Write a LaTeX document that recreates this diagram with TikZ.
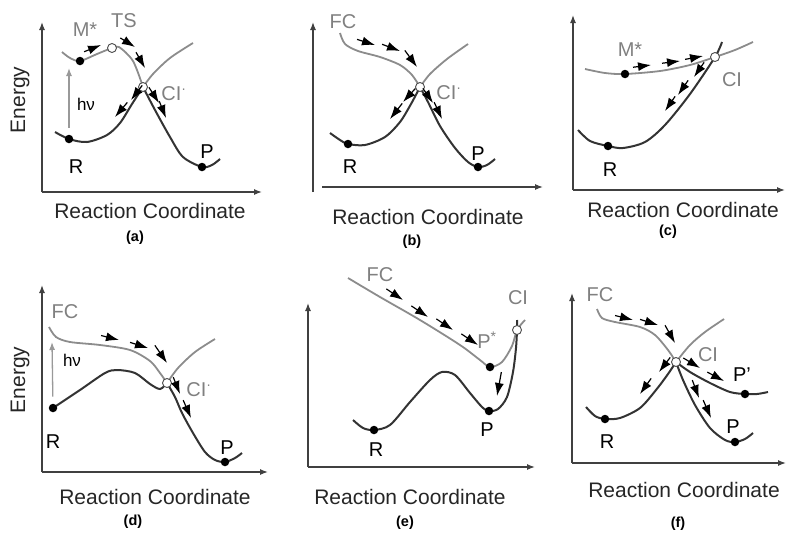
\documentclass[tikz,border=0pt]{standalone}
\usepackage{fontspec}
\setmainfont{Liberation Sans}
\usetikzlibrary{arrows.meta}

\begin{document}
\begin{tikzpicture}[x=1pt,y=-1pt,
    axis/.style={draw=black!75,line width=1.3pt,-{Latex[length=8pt,width=6pt]}},
    ground/.style={draw=black!80,line width=2pt},
    excited/.style={draw=black!45,line width=1.8pt},
    flow/.style={line width=1.2pt,shorten <=-2pt,-{Latex[length=13pt,width=9pt]}},
    pump/.style={draw=black!40,line width=1.3pt,shorten <=7pt,-{Latex[length=8pt,width=6pt]}},
    dot/.style={circle,fill=black,inner sep=0pt,minimum size=8.5pt},
    ci/.style={circle,draw=black!70,fill=white,line width=0.9pt,inner sep=0pt,minimum size=9pt},
    lbl/.style={font=\fontsize{20}{24}\selectfont},
    glbl/.style={lbl,text=black!50},
    hv/.style={font=\fontsize{17}{20}\selectfont},
    axlbl/.style={font=\fontsize{21}{25}\selectfont,text=black!85},
    tag/.style={font=\bfseries\fontsize{14.5}{16}\selectfont}]
  \useasboundingbox (0,0) rectangle (786,533);

  % (a) photoexcitation, barrier TS, then CI
  \draw[axis] (42,192) -- (42,22);
  \draw[axis] (42,192) -- (262,192);
  \node[axlbl,rotate=90] at (20,100) {Energy};
  \node[axlbl] at (150,211) {Reaction Coordinate};
  \node[tag] at (135,238) {(a)};
  \draw[excited] plot[smooth] coordinates {(62,52) (70,58) (80,61) (97,54) (112,48) (119,47) (133,61) (143,87)};
  \draw[excited] plot[smooth] coordinates {(143,87) (153,74) (170,58) (193,43)};
  \draw[ground] plot[smooth] coordinates {(55,132) (69,139) (87,142) (107,135) (120,123) (132,104) (143,87)};
  \draw[ground] plot[smooth] coordinates {(143,87) (155,110) (170,137) (183,157) (202,167) (212,165) (220,159)};
  \node[dot] (Ma) at (80,61) {};
  \node[dot] (Ra) at (69,139) {};
  \node[dot] (Pa) at (202,167) {};
  \node[ci] (TSa) at (112,48) {};
  \node[ci] (CIa) at (143,87) {};
  \coordinate (hva) at (69,68);
  \draw[pump] (Ra) -- (hva);
  \node[hv] at (86,104) {hν};
  \node[glbl] at (85,30) {M*};
  \node[glbl] at (124,21) {TS};
  \node[glbl] at (174,94) {CI\textsuperscript{·}};
  \node[lbl] at (76,167) {R};
  \node[lbl] at (207,152) {P};
  \draw[flow] (86,51) -- (101,45);
  \draw[flow] (122,39) -- (135,47);
  \draw[flow] (137,54) -- (145,68);
  \draw[flow] (141,87) -- (131,100);
  \draw[flow] (126,104) -- (115,117);
  \draw[flow] (150,89) -- (159,103);
  \draw[flow] (160,103) -- (166,118);

  % (b) from FC straight through CI
  \draw[axis] (313,192) -- (313,22);
  \draw[axis] (322,187) -- (543,187);
  \node[axlbl] at (428,217) {Reaction Coordinate};
  \node[tag] at (412,242) {(b)};
  \draw[excited] plot[smooth] coordinates {(340,33) (345,44) (358,51) (380,57) (400,65) (412,75) (420,87)};
  \draw[excited] plot[smooth] coordinates {(420,87) (430,74) (447,59) (468,44)};
  \draw[ground] plot[smooth] coordinates {(330,133) (340,140) (348,144) (365,145) (385,137) (400,122) (411,104) (420,87)};
  \draw[ground] plot[smooth] coordinates {(420,87) (428,102) (440,126) (455,148) (468,162) (478,167) (487,165) (495,159)};
  \node[dot] (Rb) at (348,144) {};
  \node[dot] (Pb) at (478,167) {};
  \node[ci] (CIb) at (420,87) {};
  \node[glbl] at (343,22) {FC};
  \node[glbl] at (449,93) {CI\textsuperscript{·}};
  \node[lbl] at (350,167) {R};
  \node[lbl] at (478,154) {P};
  \draw[flow] (359,40) -- (375,45);
  \draw[flow] (384,45) -- (400,51);
  \draw[flow] (406,52) -- (417,67);
  \draw[flow] (414,90) -- (403,102);
  \draw[flow] (401,105) -- (390,119);
  \draw[flow] (424,90) -- (433,103);
  \draw[flow] (435,104) -- (442,119);

  % (c) uphill to CI, back to R
  \draw[axis] (573,190) -- (573,15);
  \draw[axis] (573,190) -- (785,190);
  \node[axlbl] at (683,210) {Reaction Coordinate};
  \node[tag] at (668,232) {(c)};
  \draw[excited] plot[smooth] coordinates {(585,69) (605,73) (625,74) (660,71) (690,65) (715,57) (735,50) (753,42)};
  \draw[ground] plot[smooth] coordinates {(578,130) (590,141) (608,146) (623,148) (645,142) (665,125) (690,94) (715,57) (722,42)};
  \node[dot] (Mc) at (625,74) {};
  \node[dot] (Rc) at (608,146) {};
  \node[ci] (CIc) at (715,57) {};
  \node[glbl] at (630,50) {M*};
  \node[glbl] at (732,80) {CI};
  \node[lbl] at (610,170) {R};
  \draw[flow] (635,67) -- (651,65);
  \draw[flow] (664,63) -- (680,61);
  \draw[flow] (687,59) -- (703,56);
  \draw[flow] (703,64) -- (694,77);
  \draw[flow] (687,82) -- (678,95);
  \draw[flow] (674,98) -- (665,111);

  % (d) FC, small well before CI
  \draw[axis] (42,472) -- (42,285);
  \draw[axis] (42,472) -- (268,472);
  \node[axlbl,rotate=90] at (20,380) {Energy};
  \node[axlbl] at (155,497) {Reaction Coordinate};
  \node[tag] at (133,522) {(d)};
  \draw[excited] plot[smooth] coordinates {(49,327) (56,337) (70,342) (100,345) (130,350) (150,361) (160,373) (167,383)};
  \draw[excited] plot[smooth] coordinates {(167,383) (178,368) (195,352) (215,339)};
  \draw[ground] plot[smooth] coordinates {(53,408) (80,390) (105,373) (117,370) (135,373) (150,384) (160,389) (167,383)};
  \draw[ground] plot[smooth] coordinates {(167,383) (175,397) (182,413) (193,433) (205,452) (215,460) (225,462) (235,458) (242,453)};
  \node[dot] (Rd) at (53,408) {};
  \node[dot] (Pd) at (225,462) {};
  \node[ci] (CId) at (167,383) {};
  \coordinate (hvd) at (52,342);
  \draw[pump] (Rd) -- (hvd);
  \node[hv] at (72,360) {hν};
  \node[glbl] at (65,312) {FC};
  \node[glbl] at (199,390) {CI\textsuperscript{·}};
  \node[lbl] at (53,442) {R};
  \node[lbl] at (227,448) {P};
  \draw[flow] (103,336) -- (119,340);
  \draw[flow] (132,343) -- (148,348);
  \draw[flow] (156,347) -- (167,363);
  \draw[flow] (174,379) -- (180,394);
  \draw[flow] (184,402) -- (191,418);

  % (e) relaxation to P*, then down to P
  \draw[axis] (308,467) -- (308,303);
  \draw[axis] (308,467) -- (535,467);
  \node[axlbl] at (410,497) {Reaction Coordinate};
  \node[tag] at (405,523) {(e)};
  \draw[excited] plot[smooth] coordinates {(348,278) (380,297) (420,320) (460,345) (480,360) (490,367) (502,362) (512,346) (517,330) (525,320)};
  \draw[ground] plot[smooth] coordinates {(353,420) (363,428) (374,430) (390,425) (410,402) (430,380) (442,372) (455,375) (470,393) (482,407) (489,411) (498,409) (507,397) (513,372) (516,348) (517,330) (517,320)};
  \node[dot] (Re) at (374,430) {};
  \node[dot] (Pe) at (489,411) {};
  \node[dot] (Pse) at (490,367) {};
  \node[ci] (CIe) at (517,330) {};
  \node[glbl] at (380,275) {FC};
  \node[glbl] at (518,298) {CI};
  \node[glbl] at (487,340) {P\textsuperscript{*}};
  \node[lbl] at (376,450) {R};
  \node[lbl] at (487,430) {P};
  \draw[flow] (388,290) -- (403,300);
  \draw[flow] (413,307) -- (428,317);
  \draw[flow] (438,320) -- (453,330);
  \draw[flow] (463,335) -- (478,345);
  \draw[flow] (501,374) -- (497,396);

  % (f) CI branching into P and P'
  \draw[axis] (572,463) -- (572,293);
  \draw[axis] (572,463) -- (786,463);
  \node[axlbl] at (684,490) {Reaction Coordinate};
  \node[tag] at (678,524) {(f)};
  \draw[excited] plot[smooth] coordinates {(597,309) (602,318) (615,322) (640,327) (655,335) (668,350) (676,362)};
  \draw[excited] plot[smooth] coordinates {(676,362) (690,345) (705,332) (724,319)};
  \draw[ground] plot[smooth] coordinates {(586,407) (595,416) (605,419) (620,418) (640,408) (656,390) (668,374) (676,362)};
  \draw[ground] plot[smooth] coordinates {(676,362) (683,380) (695,405) (710,428) (725,440) (735,442) (745,439) (753,433)};
  \draw[ground] plot[smooth] coordinates {(676,362) (690,372) (710,383) (730,392) (745,394) (757,394) (768,392)};
  \node[dot] (Rf) at (605,419) {};
  \node[dot] (Pf) at (735,442) {};
  \node[dot] (Ppf) at (745,394) {};
  \node[ci] (CIf) at (676,362) {};
  \node[glbl] at (600,295) {FC};
  \node[glbl] at (708,355) {CI};
  \node[lbl] at (742,375) {P'};
  \node[lbl] at (733,427) {P};
  \node[lbl] at (607,442) {R};
  \draw[flow] (617,316) -- (633,320);
  \draw[flow] (642,320) -- (658,325);
  \draw[flow] (666,327) -- (675,343);
  \draw[flow] (669,359) -- (659,372);
  \draw[flow] (650,380) -- (640,394);
  \draw[flow] (685,359) -- (700,368);
  \draw[flow] (709,373) -- (724,381);
  \draw[flow] (693,382) -- (699,398);
  \draw[flow] (704,402) -- (711,418);
\end{tikzpicture}
\end{document}
